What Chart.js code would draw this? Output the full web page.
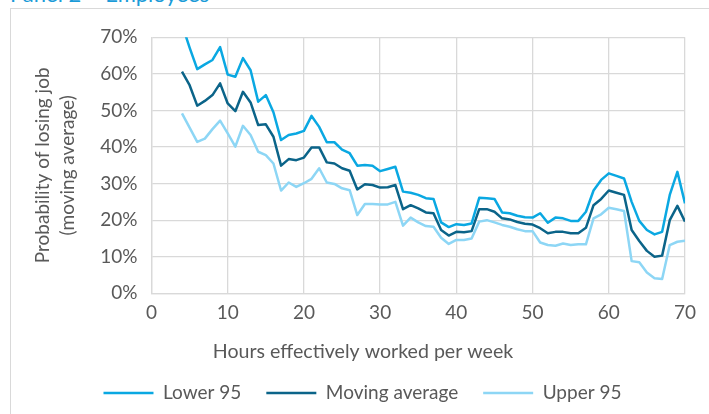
<!DOCTYPE html>
<html>
<head>
<meta charset="utf-8">
<script src="https://cdn.jsdelivr.net/npm/chart.js@4/dist/chart.umd.min.js"></script>
<style>
  html, body { margin: 0; padding: 0; background: #ffffff; }
  #wrap { position: relative; width: 709px; height: 414px; overflow: hidden; background: #ffffff; }
  #frame { position: absolute; left: 10px; top: 8px; right: -2px; bottom: -2px;
           border-left: 1px solid #d9d9d9; border-top: 1px solid #d9d9d9; }
  #panel { position: absolute; left: 10px; top: -18px; font: 22px Lato, sans-serif; line-height: 24px;
           color: #1b9bd8; white-space: nowrap; }
  canvas { position: absolute; left: 0; top: 0; }
</style>
</head>
<body>
<div id="wrap">
  <div id="frame"></div>
  <div id="panel">Panel 2 – Employees</div>
  <canvas id="chart" width="709" height="414"></canvas>
</div>
<script>
// Hours effectively worked per week
const hours = [
  4, 5, 6, 7, 8, 9, 10, 11, 12, 13, 14, 15, 16, 17, 18, 19, 20, 21, 22, 23, 24, 25, 26, 27,
  28, 29, 30, 31, 32, 33, 34, 35, 36, 37, 38, 39, 40, 41, 42, 43, 44, 45, 46, 47, 48, 49,
  50, 51, 52, 53, 54, 55, 56, 57, 58, 59, 60, 61, 62, 63, 64, 65, 66, 67, 68, 69, 70
];

// Probability of losing job, in percent
const lower95 = [
  73.5, 67.2, 61.3, 62.6, 63.8, 67.3, 59.8, 59.2, 64.3, 61.0, 52.4, 54.2, 49.5, 41.9, 43.3, 43.7,
  44.4, 48.5, 45.5, 41.3, 41.3, 39.3, 38.3, 34.9, 35.1, 34.9, 33.4, 34.0, 34.6, 27.8, 27.5, 26.9,
  26.0, 25.8, 19.4, 18.1, 18.9, 18.7, 19.1, 26.1, 26.0, 25.8, 22.1, 21.9, 21.2, 20.8, 20.7, 21.9,
  19.3, 20.7, 20.5, 19.8, 19.8, 22.3, 28.1, 31.0, 32.8, 32.1, 31.4, 25.0, 19.8, 17.3, 16.1, 16.8,
  26.9, 33.2, 24.6
];
const movingAverage = [
  60.6, 56.9, 51.3, 52.6, 54.2, 57.4, 51.9, 49.8, 55.1, 52.2, 46.0, 46.2, 42.8, 34.9, 36.7, 36.4,
  37.1, 39.9, 39.9, 35.8, 35.5, 34.2, 33.5, 28.4, 29.8, 29.6, 28.9, 29.0, 29.6, 23.0, 24.1, 23.2,
  22.1, 21.9, 17.3, 15.8, 16.8, 16.7, 17.0, 23.0, 23.0, 22.3, 20.5, 20.2, 19.5, 19.0, 18.8, 17.8,
  16.4, 16.8, 16.8, 16.4, 16.4, 17.9, 24.1, 25.8, 28.1, 27.5, 26.9, 17.3, 14.3, 11.6, 10.0, 10.3,
  20.0, 23.9, 19.6
];
const upper95 = [
  49.2, 45.3, 41.4, 42.3, 44.9, 47.2, 43.7, 40.1, 45.8, 43.3, 38.7, 37.8, 35.5, 28.1, 30.3, 29.1,
  30.1, 31.3, 34.2, 30.3, 29.9, 28.7, 28.2, 21.4, 24.4, 24.4, 24.3, 24.3, 25.0, 18.5, 20.7, 19.4,
  18.4, 18.2, 15.2, 13.5, 14.6, 14.6, 15.0, 19.6, 20.0, 19.4, 18.7, 18.2, 17.5, 17.0, 17.0, 13.9,
  13.2, 13.0, 13.6, 13.2, 13.4, 13.4, 20.5, 21.6, 23.4, 23.0, 22.5, 8.8, 8.5, 5.7, 4.1, 3.9,
  13.2, 14.1, 14.4
];

const seriesNames = ['Lower 95', 'Moving average', 'Upper 95'];
const yTitle = ['Probability of losing job', '(moving average)'];
const xTitle = 'Hours effectively worked per week';

const FONT = 'Lato, sans-serif';
const TEXT = '#595959';
const GRID = '#d9d9d9';

const toPoints = vals => hours.map((h, i) => ({ x: h, y: vals[i] }));

function lineSet(label, values, color) {
  return {
    label,
    data: toPoints(values),
    borderColor: color,
    backgroundColor: color,
    borderWidth: 2.5,
    borderJoinStyle: 'round',
    pointRadius: 0,
    pointHoverRadius: 0,
    tension: 0
  };
}

// x-axis caption, centred under the panel rather than the plot area
const xCaption = {
  id: 'xCaption',
  afterDraw(chart) {
    const ctx = chart.ctx;
    ctx.save();
    ctx.font = '19.6px ' + FONT;
    ctx.fillStyle = TEXT;
    ctx.textAlign = 'center';
    ctx.textBaseline = 'middle';
    ctx.fillText(xTitle, 363, 352);
    ctx.restore();
  }
};

new Chart(document.getElementById('chart'), {
  type: 'line',
  data: {
    datasets: [
      lineSet(seriesNames[0], lower95, '#0aa8e2'),
      lineSet(seriesNames[1], movingAverage, '#0b6489'),
      lineSet(seriesNames[2], upper95, '#8dd6f5')
    ]
  },
  options: {
    responsive: false,
    animation: false,
    devicePixelRatio: 1,
    layout: { padding: { left: 20, right: 4, top: 37.3, bottom: 1.5 } },
    plugins: {
      tooltip: { enabled: false },
      legend: {
        position: 'bottom',
        labels: {
          boxWidth: 50,
          boxHeight: 2.5,
          padding: 25,
          color: TEXT,
          font: { family: FONT, size: 19 },
          generateLabels(chart) {
            return chart.data.datasets.map((ds, i) => ({
              text: ds.label,
              fillStyle: ds.borderColor,
              strokeStyle: ds.borderColor,
              lineWidth: 0,
              fontColor: TEXT,
              datasetIndex: i,
              hidden: false
            }));
          }
        }
      }
    },
    scales: {
      x: {
        type: 'linear',
        min: 0,
        max: 70,
        ticks: { stepSize: 10, color: TEXT, font: { family: FONT, size: 19 }, padding: 8.3, maxRotation: 0 },
        grid: { color: GRID, lineWidth: 1.3, drawTicks: false },
        border: { color: GRID, width: 1.3 },
        afterFit(scale) { scale.height = 65.2; }
      },
      y: {
        min: 0,
        max: 70,
        ticks: { stepSize: 10, color: TEXT, font: { family: FONT, size: 19 }, padding: 14,
                 callback: v => v + '%' },
        grid: { color: GRID, lineWidth: 1.3, drawTicks: false },
        border: { color: GRID, width: 1.3 },
        title: {
          display: true,
          text: yTitle,
          color: TEXT,
          font: { family: FONT, size: 19, lineHeight: 1.3 },
          padding: { top: 10.6, bottom: 0 }
        },
        afterFit(scale) { scale.width = 131.5; }
      },
      yRight: {
        position: 'right',
        display: true,
        grid: { display: false },
        border: { display: false },
        ticks: { display: false },
        afterFit(scale) { scale.width = 20; }
      }
    }
  },
  plugins: [xCaption]
});
</script>
</body>
</html>
